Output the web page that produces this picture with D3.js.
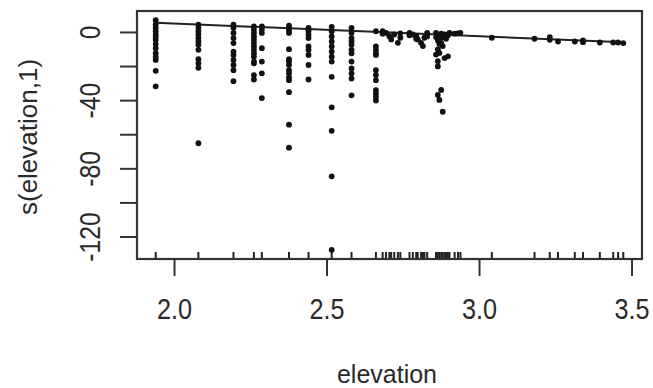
<!DOCTYPE html>
<html>
<head>
<meta charset="utf-8">
<script src="https://cdn.jsdelivr.net/npm/d3@7"></script>
<style>
  html, body { margin: 0; padding: 0; background: #fff; }
  svg { display: block; }
  text { font-family: "Liberation Sans", Arial, sans-serif; fill: #2a2a2a; }
</style>
</head>
<body>
<svg id="chart" width="653" height="388"></svg>
<script>
// ---- data ----
const xTicks = [2.0, 2.5, 3.0, 3.5];
const xTickLabels = ["2.0", "2.5", "3.0", "3.5"];
const yTicks = [0, -20, -40, -60, -80, -100, -120];
const yTickLabels = ["0", "", "-40", "", "-80", "", "-120"];
const xTitle = "elevation";
const yTitle = "s(elevation,1)";

// partial residuals, grouped by elevation value
const colElevation = [1.940, 2.080, 2.195, 2.262, 2.288, 2.377, 2.441, 2.517, 2.582, 2.662];
const colResiduals = [
  [6.9, 4.3, 2.4, 0.4, -1.6, -3.0, -4.6, -7.1, -9.5, -12.5, -14.5, -16.4, -22.8, -31.9],
  [4.3, 2.4, 0.4, -1.6, -3.6, -5.6, -7.5, -10.5, -16.0, -18.4, -21.0, -65.3],
  [4.3, 2.4, -0.6, -3.6, -6.5, -11.5, -13.5, -16.4, -19.4, -22.4, -28.9],
  [3.3, 1.4, -0.6, -2.6, -4.6, -6.5, -8.5, -10.5, -12.5, -14.5, -17.4, -18.4, -25.3, -27.9],
  [3.3, 1.4, -0.6, -9.5, -17.4, -24.3, -38.8],
  [3.7, 2.4, 0.9, -0.6, -10.1, -16.0, -17.4, -19.4, -22.4, -24.3, -26.7, -28.3, -35.3, -54.4, -67.9],
  [2.4, 0.4, -1.6, -3.6, -8.5, -10.5, -13.5, -19.4, -27.9],
  [3.0, 0.4, -2.6, -5.6, -8.5, -11.5, -14.5, -17.4, -26.3, -44.2, -58.0, -84.7, -127.8],
  [2.4, -0.6, -3.6, -5.6, -7.5, -10.5, -12.5, -17.4, -21.4, -24.3, -27.3, -37.2],
  [0.4, -8.5, -10.5, -12.5, -13.5, -22.4, -25.3, -28.3, -34.2, -36.2, -38.2, -40.2]
];
// scattered points in the dense 2.68 - 3.48 region
const extraElevation = [
  2.684, 2.684, 2.695, 2.706, 2.712, 2.722, 2.734, 2.742, 2.742,
  2.772, 2.772, 2.783, 2.794, 2.794, 2.799, 2.810, 2.816, 2.821, 2.830, 2.830,
  2.859, 2.859, 2.865, 2.865, 2.870, 2.870, 2.876, 2.876, 2.881, 2.881, 2.865, 2.870,
  2.859, 2.887, 2.898, 2.865, 2.865, 2.876, 2.865, 2.870, 2.881, 2.887, 2.892, 2.898,
  2.903, 2.920, 2.931, 2.939,
  3.042, 3.182, 3.232, 3.232, 3.259, 3.314, 3.341, 3.341, 3.396, 3.440, 3.456, 3.473
];
const extraResidual = [
  0.5, -1.0, -0.5, -2.5, -4.4, -1.5, -6.4, -3.4, -0.8,
  -0.5, -2.0, -1.5, -2.5, -4.0, -4.4, -6.4, -8.3, -3.4, -0.5, -2.6,
  -0.5, -3.0, -2.5, -5.0, -4.4, -7.0, -6.4, -1.0, -8.3, -3.0, -10.3, -12.3,
  -13.3, -15.3, -14.3, -17.2, -20.2, -34.0, -37.0, -39.9, -46.8, -1.5, -4.0, -2.0,
  -0.5, -1.0, -0.8, -0.5,
  -3.4, -4.0, -3.0, -4.6, -5.6, -5.6, -5.0, -6.0, -6.2, -6.2, -6.2, -6.5
];
// fitted smooth term (linear, 1 df)
const fitElevation = [1.940, 3.473];
const fitValue = [5.4, -6.0];

// ---- build points ----
const points = [];
colElevation.forEach((e, i) => colResiduals[i].forEach(v => points.push({x: e, y: v})));
extraElevation.forEach((e, i) => points.push({x: e, y: extraResidual[i]}));
const rugValues = Array.from(new Set(points.map(d => d.x)));

// ---- layout ----
const box = {left: 137, right: 642, top: 11, bottom: 259};
const svg = d3.select("#chart");

const xRange = d3.extent(points, d => d.x);
const yRange = d3.extent(points, d => d.y);
const xPad = (xRange[1] - xRange[0]) * 0.04;
const yPad = (yRange[1] - yRange[0]) * 0.04;
const x = d3.scaleLinear().domain([xRange[0] - xPad, xRange[1] + xPad]).range([box.left, box.right]);
const y = d3.scaleLinear().domain([yRange[0] - yPad, yRange[1] + yPad]).range([box.bottom, box.top]);

// x axis
const gx = svg.append("g").attr("transform", `translate(0,${box.bottom})`)
  .call(d3.axisBottom(x).tickValues(xTicks).tickSize(17).tickSizeOuter(0)
        .tickFormat((d, i) => xTickLabels[i]));
gx.select(".domain").remove();
gx.selectAll(".tick line").attr("stroke", "#333").attr("stroke-width", 2);
gx.selectAll(".tick text")
  .attr("y", 60).attr("dy", 0)
  .attr("transform", "scale(0.87,1)")
  .style("font-size", "29px")
  .style("font-family", '"Liberation Sans", Arial, sans-serif')
  .attr("fill", "#2a2a2a");

// y axis
const gy = svg.append("g").attr("transform", `translate(${box.left},0)`)
  .call(d3.axisLeft(y).tickValues(yTicks).tickSize(17).tickSizeOuter(0)
        .tickFormat((d, i) => yTickLabels[i]));
gy.select(".domain").remove();
gy.selectAll(".tick line").attr("stroke", "#333").attr("stroke-width", 2);
gy.selectAll(".tick text")
  .attr("x", null).attr("dy", null).attr("y", null)
  .attr("text-anchor", "middle")
  .attr("transform", "translate(-37,0) rotate(-90) scale(0.85,1)")
  .style("font-size", "29px")
  .style("font-family", '"Liberation Sans", Arial, sans-serif')
  .attr("fill", "#2a2a2a");

// rug
svg.append("g").selectAll("line").data(rugValues).join("line")
  .attr("x1", d => x(d)).attr("x2", d => x(d))
  .attr("y1", box.bottom).attr("y2", box.bottom - 7)
  .attr("stroke", "#222").attr("stroke-width", 2);

// fitted line
svg.append("path")
  .datum(fitElevation.map((e, i) => [e, fitValue[i]]))
  .attr("d", d3.line().x(d => x(d[0])).y(d => y(d[1])))
  .attr("fill", "none").attr("stroke", "#222").attr("stroke-width", 2);

// points
svg.append("g").selectAll("circle").data(points).join("circle")
  .attr("cx", d => x(d.x)).attr("cy", d => y(d.y)).attr("r", 2.9)
  .attr("fill", "#111");

// box
svg.append("rect")
  .attr("x", box.left).attr("y", box.top)
  .attr("width", box.right - box.left).attr("height", box.bottom - box.top)
  .attr("fill", "none").attr("stroke", "#333").attr("stroke-width", 2.2);

// titles
svg.append("text").attr("x", 387).attr("y", 383).attr("text-anchor", "middle")
  .style("font-size", "25px").text(xTitle);
svg.append("text").attr("transform", "translate(37,137) rotate(-90)")
  .attr("text-anchor", "middle").style("font-size", "26px").text(yTitle);
</script>
</body>
</html>
